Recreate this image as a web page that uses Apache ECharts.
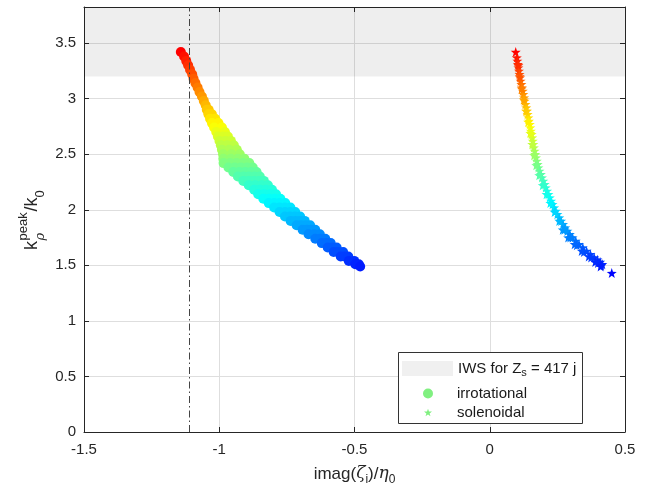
<!DOCTYPE html>
<html>
<head>
<meta charset="utf-8">
<script src="https://cdn.jsdelivr.net/npm/echarts@6/dist/echarts.min.js"></script>
<style>
html,body{margin:0;padding:0;background:#fff;}
#chart{width:649px;height:492px;}
</style>
</head>
<body>
<div id="chart"></div>
<script>
// ---- data ----
const xTicks = [-1.5, -1, -0.5, 0, 0.5];
const yTicks = [0, 0.5, 1, 1.5, 2, 2.5, 3, 3.5];
const iwsLower = 3.2;
const iwsUpper = 3.825;
const dashLineX = -1.108;
const legendNames = ['IWS for Z_s = 417 j', 'irrotational', 'solenoidal'];

const irrotational = [
  [-1.142,3.42],[-1.130,3.38],[-1.122,3.34],[-1.115,3.30],[-1.108,3.26],[-1.100,3.22],
  [-1.095,3.18],[-1.088,3.14],[-1.080,3.10],[-1.073,3.06],[-1.064,3.02],[-1.057,2.98],
  [-1.050,2.94],
  [-1.046,2.90],[-1.039,2.90],
  [-1.040,2.86],[-1.027,2.86],
  [-1.034,2.82],[-1.015,2.82],
  [-1.027,2.78],[-1.003,2.78],
  [-1.019,2.74],[-0.990,2.74],
  [-1.011,2.70],[-0.979,2.70],
  [-1.005,2.66],[-0.986,2.66],[-0.968,2.66],
  [-0.999,2.62],[-0.978,2.62],[-0.957,2.62],
  [-0.994,2.58],[-0.970,2.58],[-0.946,2.58],
  [-0.990,2.54],[-0.963,2.54],[-0.935,2.54],
  [-0.986,2.50],[-0.955,2.50],[-0.924,2.50],
  [-0.985,2.46],[-0.957,2.46],[-0.932,2.46],[-0.907,2.46],
  [-0.984,2.42],[-0.960,2.42],[-0.936,2.42],[-0.912,2.42],[-0.889,2.42],
  [-0.966,2.38],[-0.943,2.38],[-0.920,2.38],[-0.897,2.38],[-0.876,2.38],
  [-0.948,2.34],[-0.926,2.34],[-0.904,2.34],[-0.883,2.34],[-0.862,2.34],
  [-0.931,2.30],[-0.910,2.30],[-0.890,2.30],[-0.870,2.30],[-0.850,2.30],
  [-0.911,2.26],[-0.891,2.26],[-0.872,2.26],[-0.853,2.26],[-0.835,2.26],
  [-0.891,2.22],[-0.867,2.22],[-0.843,2.22],[-0.820,2.22],
  [-0.871,2.18],[-0.849,2.18],[-0.827,2.18],[-0.805,2.18],
  [-0.856,2.14],[-0.834,2.14],[-0.812,2.14],[-0.790,2.14],
  [-0.837,2.10],[-0.816,2.10],[-0.795,2.10],[-0.774,2.10],
  [-0.817,2.06],[-0.797,2.06],[-0.777,2.06],[-0.756,2.06],
  [-0.797,2.02],[-0.777,2.02],[-0.757,2.02],[-0.737,2.02],
  [-0.777,1.98],[-0.757,1.98],[-0.738,1.98],[-0.719,1.98],
  [-0.757,1.94],[-0.738,1.94],[-0.720,1.94],[-0.701,1.94],
  [-0.736,1.90],[-0.718,1.90],[-0.701,1.90],[-0.684,1.90],
  [-0.714,1.86],[-0.697,1.86],[-0.680,1.86],[-0.664,1.86],
  [-0.692,1.82],[-0.676,1.82],[-0.661,1.82],[-0.645,1.82],
  [-0.670,1.78],[-0.649,1.78],[-0.628,1.78],
  [-0.645,1.74],[-0.627,1.74],[-0.608,1.74],
  [-0.621,1.70],[-0.605,1.70],[-0.588,1.70],
  [-0.599,1.66],[-0.582,1.66],[-0.566,1.66],
  [-0.577,1.62],[-0.561,1.62],[-0.542,1.62],
  [-0.551,1.58],[-0.537,1.58],[-0.523,1.58],
  [-0.521,1.54],[-0.501,1.54],
  [-0.497,1.51],[-0.484,1.51],
  [-0.479,1.49]
];

const solenoidal = [
  [0.096,3.42],[0.100,3.37],[0.102,3.34],[0.104,3.31],[0.106,3.28],[0.108,3.25],
  [0.110,3.22],[0.112,3.19],[0.114,3.16],[0.117,3.13],[0.119,3.10],[0.122,3.07],
  [0.124,3.04],[0.127,3.01],[0.129,2.98],[0.132,2.95],[0.135,2.92],[0.138,2.89],
  [0.140,2.86],[0.143,2.83],[0.145,2.80],[0.148,2.77],[0.150,2.74],[0.152,2.71],
  [0.155,2.68],[0.157,2.65],[0.159,2.62],[0.161,2.59],[0.163,2.56],[0.166,2.53],
  [0.168,2.50],[0.171,2.47],[0.174,2.44],[0.177,2.41],[0.180,2.38],[0.184,2.35],
  [0.189,2.32],[0.193,2.29],[0.198,2.26],[0.203,2.23],[0.207,2.20],[0.212,2.17],
  [0.217,2.14],[0.222,2.11],[0.227,2.08],[0.232,2.05],[0.238,2.02],[0.244,1.99],
  [0.250,1.96],[0.257,1.93],[0.264,1.90],[0.271,1.87],[0.279,1.84],[0.287,1.81],
  [0.296,1.78],[0.306,1.75],[0.318,1.72],[0.330,1.69],[0.344,1.66],[0.358,1.63],
  [0.372,1.60],[0.386,1.57],[0.398,1.55],[0.408,1.53],[0.416,1.51],[0.451,1.43],
  [0.106,3.30],[0.111,3.20],[0.118,3.09],[0.126,2.99],[0.134,2.89],[0.142,2.79],
  [0.150,2.69],[0.157,2.59],[0.164,2.49],[0.172,2.40],[0.183,2.31],[0.196,2.22],
  [0.210,2.14],[0.224,2.06],[0.240,1.98],[0.257,1.90],[0.276,1.82],[0.298,1.75],
  [0.322,1.68],[0.348,1.62],[0.375,1.57],[0.400,1.52],[0.412,1.50],
  [0.270,1.82],[0.290,1.75],[0.314,1.69],[0.340,1.63],[0.366,1.58],[0.390,1.53],[0.410,1.49]
];

// jet colormap segment (blue -> red) mapped to k_rho values
const colorMin = 1.42;
const colorMax = 3.42;
const jetColors = ['#0000ff','#0080ff','#00ffff','#80ff80','#ffff00','#ff8000','#ff0000'];

// ---- chart ----
const FONT = 'Liberation Sans, Arial, Helvetica, sans-serif';
const TXT = '#262626';
const starPath = 'path://M10,0L12.35,6.76L19.51,6.91L13.8,11.24L15.88,18.09L10,14L4.12,18.09L6.2,11.24L0.49,6.91L7.65,6.76Z';

const chart = echarts.init(document.getElementById('chart'), null, {renderer: 'canvas'});

const baseAxis = {
  axisLine: {show: true, onZero: false, lineStyle: {color: TXT, width: 1}},
  axisTick: {show: true, inside: true, length: 5, lineStyle: {color: TXT}},
  splitLine: {show: false},
};

function tx(text, x, y, size, extra) {
  return {type: 'text', x: x, y: y,
    style: Object.assign({text: text, fontSize: size, fontFamily: FONT, fill: TXT,
      align: 'left', verticalAlign: 'middle', textAlign: 'left', textVerticalAlign: 'middle'}, extra || {})};
}

const option = {
  animation: false,
  backgroundColor: '#ffffff',
  grid: {left: 84, right: 24, top: 7, bottom: 60, containLabel: false},
  xAxis: [
    Object.assign({}, baseAxis, {
      type: 'value', min: xTicks[0], max: xTicks[xTicks.length-1], interval: 0.5,
      position: 'bottom',
      splitLine: {show: true, lineStyle: {color: '#dedede', width: 1}},
      axisLabel: {color: TXT, fontSize: 15, fontFamily: FONT, margin: 10,
        formatter: v => String(v)},
      name: 'imag({g|ζ}{sub|i})/{g|η}{sub|0}',
      nameLocation: 'middle', nameGap: 30,
      nameTextStyle: {
        color: TXT, fontSize: 17, fontFamily: FONT, lineHeight: 24,
        rich: {
          g: {fontSize: 17, fontStyle: 'italic', fontFamily: 'DejaVu Serif, serif', color: TXT},
          sub: {fontSize: 12, lineHeight: 9, verticalAlign: 'bottom', fontFamily: FONT, color: TXT}
        }
      }
    }),
    Object.assign({}, baseAxis, {
      type: 'value', min: xTicks[0], max: xTicks[xTicks.length-1], interval: 0.5,
      position: 'top', axisLabel: {show: false}
    })
  ],
  yAxis: [
    Object.assign({}, baseAxis, {
      type: 'value', min: yTicks[0], max: iwsUpper, interval: 0.5,
      position: 'left',
      splitLine: {show: true, lineStyle: {color: '#dedede', width: 1}},
      axisLabel: {color: TXT, fontSize: 15, fontFamily: FONT, margin: 8, showMaxLabel: false,
        formatter: v => (yTicks.indexOf(Math.round(v*100)/100) >= 0 ? String(v) : '')}
    }),
    Object.assign({}, baseAxis, {
      type: 'value', min: yTicks[0], max: iwsUpper, interval: 0.5,
      position: 'right', axisLabel: {show: false}
    })
  ],
  visualMap: {
    type: 'continuous', show: false, dimension: 1,
    min: colorMin, max: colorMax, seriesIndex: [1, 2],
    inRange: {color: jetColors}
  },
  legend: [
    {
      data: [{name: legendNames[0], icon: 'rect', itemStyle: {color: '#ececec'}}],
      left: 402, top: 361, padding: 0, itemWidth: 51, itemHeight: 15,
      selectedMode: false, z: 10,
      textStyle: {color: '#1a1a1a', fontSize: 15, fontFamily: FONT,
        rich: {a: {fontSize: 15, fontFamily: FONT, color: '#1a1a1a', lineHeight: 20},
               s: {fontSize: 11, fontFamily: FONT, color: '#1a1a1a', lineHeight: 10, verticalAlign: 'bottom'}}},
      formatter: () => '{a|IWS for Z}{s|s}{a| = 417 j}'
    },
    {
      data: [{name: legendNames[1], icon: 'circle', itemStyle: {color: '#80f080'}}],
      left: 423, top: 386, padding: 0, itemWidth: 10, itemHeight: 10,
      selectedMode: false, z: 10,
      textStyle: {color: '#1a1a1a', fontSize: 15, fontFamily: FONT,
        rich: {sp: {width: 19}, t: {fontSize: 15, fontFamily: FONT, color: '#1a1a1a'}}},
      formatter: n => '{sp|}{t|' + n + '}'
    },
    {
      data: [{name: legendNames[2], icon: starPath, itemStyle: {color: '#80f080'}}],
      left: 424, top: 405, padding: 0, itemWidth: 8, itemHeight: 8,
      selectedMode: false, z: 10,
      textStyle: {color: '#1a1a1a', fontSize: 15, fontFamily: FONT,
        rich: {sp: {width: 20}, t: {fontSize: 15, fontFamily: FONT, color: '#1a1a1a'}}},
      formatter: n => '{sp|}{t|' + n + '}'
    }
  ],
  graphic: [
    {
      type: 'rect', z: 8, silent: true,
      shape: {x: 398.5, y: 352.5, width: 184, height: 71},
      style: {fill: '#ffffff', stroke: '#333333', lineWidth: 1}
    },
    {
      type: 'group', x: 32, y: 250, rotation: Math.PI / 2, z: 10, silent: true,
      children: [
        tx('k', 0, 0, 18),
        tx('peak', 9.5, -9, 13),
        tx('ρ', 9.5, 9, 13, {fontStyle: 'italic', fontFamily: 'DejaVu Serif, serif'}),
        tx('/k', 38.5, 0, 18),
        tx('0', 52.5, 8, 13)
      ]
    }
  ],
  series: [
    {
      name: legendNames[0], type: 'scatter', data: [], silent: true,
      itemStyle: {color: '#ececec'},
      markArea: {
        silent: true,
        itemStyle: {color: 'rgba(0,0,0,0.065)'},
        data: [[{yAxis: iwsLower}, {yAxis: iwsUpper}]]
      },
      markLine: {
        silent: true, symbol: 'none', label: {show: false},
        lineStyle: {color: '#444444', width: 1, type: [7, 3, 1.5, 3]},
        data: [{xAxis: dashLineX}]
      }
    },
    {
      name: legendNames[1], type: 'scatter', symbol: 'circle', symbolSize: 10,
      data: irrotational, itemStyle: {color: '#80f080', opacity: 1}, z: 3
    },
    {
      name: legendNames[2], type: 'scatter', symbol: starPath, symbolSize: 10,
      data: solenoidal, itemStyle: {color: '#80f080', opacity: 1}, z: 3
    }
  ]
};
chart.setOption(option);
</script>
</body>
</html>
